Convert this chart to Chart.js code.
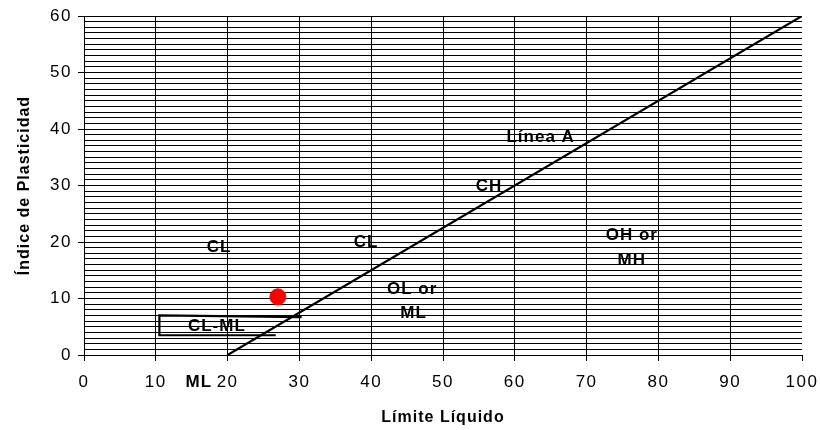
<!DOCTYPE html>
<html>
<head>
<meta charset="utf-8">
<script src="https://cdn.jsdelivr.net/npm/chart.js@4.4.1/dist/chart.umd.min.js"></script>
<style>
  html, body { margin: 0; padding: 0; background: #fff; }
  #wrap { width: 820px; height: 430px; }
</style>
</head>
<body>
<div id="wrap"><canvas id="chart" width="820" height="430"></canvas></div>
<script>
// Carta de plasticidad de Casagrande
const lineaA = [{x: 20, y: 0}, {x: 100, y: 60}];
const zonaClMl = [{x: 30.3, y: 6.7}, {x: 10.5, y: 7}, {x: 10.5, y: 3.5}, {x: 26.7, y: 3.5}];
const muestra = [{x: 27, y: 10.3}];
const zonas = [
  {text: 'CL', x: 18.8, y: 19.0},
  {text: 'CL', x: 39.3, y: 20.0},
  {text: 'CH', x: 56.4, y: 29.9},
  {text: 'Línea A', x: 63.6, y: 38.6},
  {text: 'OL or', x: 45.7, y: 11.7},
  {text: 'ML', x: 45.9, y: 7.4},
  {text: 'OH or', x: 76.3, y: 21.2},
  {text: 'MH', x: 76.3, y: 16.8},
  {text: 'CL-ML', x: 18.5, y: 5.0},
  {text: 'ML', x: 16.0, y: -4.8}
];
const tituloX = 'Límite Líquido';
const tituloY = 'Índice de Plasticidad';

const FONT = "'Liberation Sans', Arial, sans-serif";

const textos = {
  id: 'textos',
  beforeDraw(c) { c.ctx.letterSpacing = '1.5px'; },
  afterDraw(c) {
    const ctx = c.ctx, xs = c.scales.x, ys = c.scales.y, a = c.chartArea;
    ctx.save();
    ctx.fillStyle = '#000';
    ctx.textAlign = 'center';
    ctx.textBaseline = 'middle';
    ctx.letterSpacing = '1px';
    ctx.font = 'bold 17px ' + FONT;
    zonas.forEach(z => ctx.fillText(z.text, xs.getPixelForValue(z.x), ys.getPixelForValue(z.y)));
    ctx.font = 'bold 16px ' + FONT;
    ctx.fillText(tituloX, (a.left + a.right) / 2, 418);
    ctx.translate(25, (a.top + a.bottom) / 2);
    ctx.rotate(-Math.PI / 2);
    ctx.fillText(tituloY, 0, 0);
    ctx.restore();
    ctx.letterSpacing = '0px';
  }
};

new Chart(document.getElementById('chart'), {
  type: 'scatter',
  data: {
    datasets: [
      { data: lineaA, showLine: true, borderColor: '#000', borderWidth: 2.2, pointRadius: 0 },
      { data: zonaClMl, showLine: true, borderColor: '#000', borderWidth: 2.2, pointRadius: 0 },
      { data: muestra, backgroundColor: '#ff0000', borderColor: '#ff0000', pointRadius: 8 }
    ]
  },
  options: {
    responsive: false,
    animation: false,
    layout: { padding: { top: 16, right: 18, left: 0, bottom: 0 } },
    plugins: { legend: { display: false }, tooltip: { enabled: false } },
    scales: {
      x: {
        type: 'linear', min: 0, max: 100,
        afterFit: s => { s.height = 75; s.paddingLeft = 0; s.paddingRight = 0; },
        border: { color: '#000', width: 1 },
        grid: {
          color: ctx => ctx.tick && ctx.tick.value === 100 ? 'rgba(0,0,0,0)' : '#000',
          tickColor: '#000', tickLength: 6
        },
        ticks: { stepSize: 10, color: '#000', padding: 11, font: { family: FONT, size: 17 } }
      },
      y: {
        type: 'linear', min: 0, max: 60,
        afterFit: s => { s.width = 84; s.paddingTop = 0; s.paddingBottom = 0; },
        border: { color: '#000', width: 1 },
        grid: {
          color: '#000',
          tickColor: ctx => ctx.tick && ctx.tick.value % 10 === 0 ? '#000' : 'rgba(0,0,0,0)',
          tickLength: 6
        },
        ticks: {
          stepSize: 1, autoSkip: false, color: '#000', padding: 6,
          font: { family: FONT, size: 17 },
          callback: v => v % 10 === 0 ? v : ''
        }
      }
    }
  },
  plugins: [textos]
});
</script>
</body>
</html>
